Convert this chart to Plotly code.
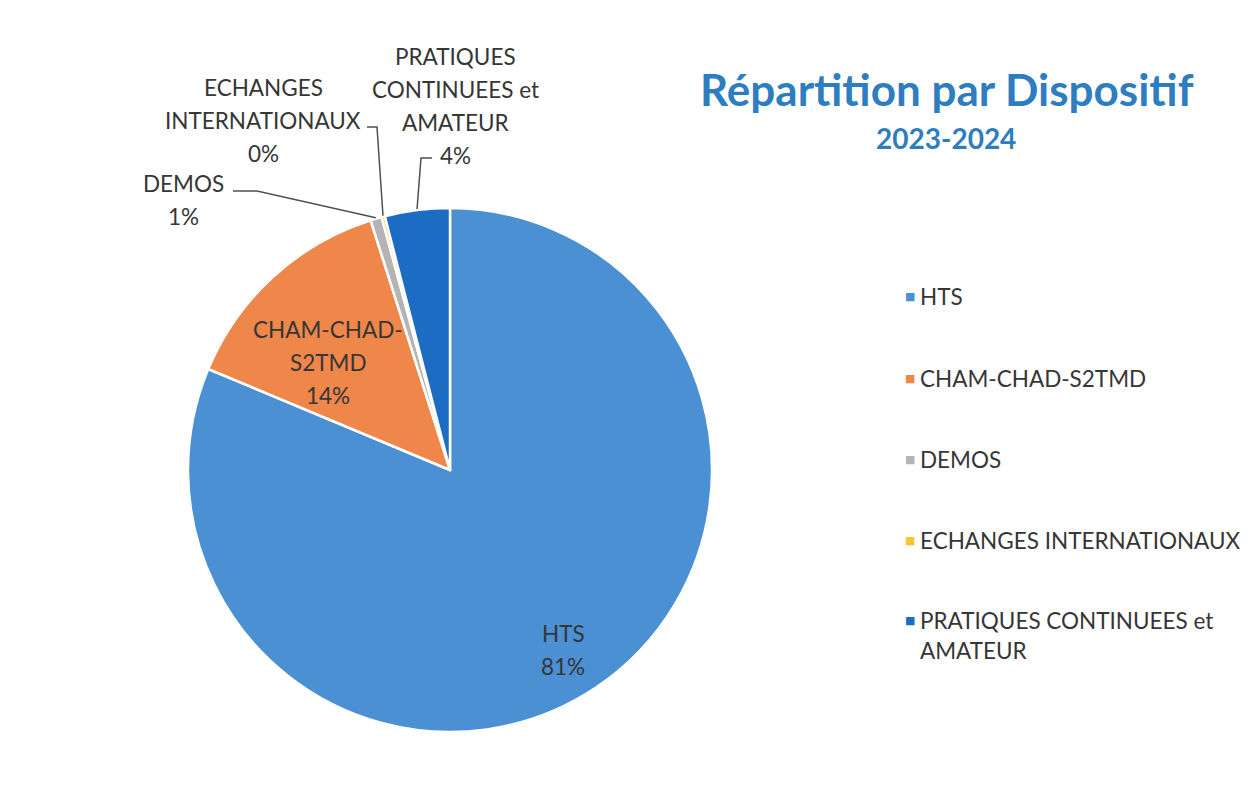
import math
import plotly.graph_objects as go

labels = ["HTS", "CHAM-CHAD-S2TMD", "DEMOS", "ECHANGES INTERNATIONAUX",
          "PRATIQUES CONTINUEES et AMATEUR"]
values = [81.3, 13.8, 0.7, 0.2, 4.0]
colors = ["#4a90d2", "#f0874a", "#b4b4b4", "#fbc531", "#1c6cc4"]

# text lines as written on the chart
slice_lines = [["HTS"], ["CHAM-CHAD-", "S2TMD"], ["DEMOS"],
               ["ECHANGES", "INTERNATIONAUX"],
               ["PRATIQUES", "CONTINUEES et", "AMATEUR"]]
legend_lines = [["HTS"], ["CHAM-CHAD-S2TMD"], ["DEMOS"], ["ECHANGES INTERNATIONAUX"],
                ["PRATIQUES CONTINUEES et", "AMATEUR"]]

# page body has an 8px margin, so the figure sits at (8, 8) in the window
OFF = 8
W, H = 1256 - OFF, 793 - OFF
CX, CY, R = 450, 470, 262
FONT = "Lato"
TXT = "#363636"
FS = 22.5


def px(x):
    return (x - OFF) / W


def py(y):
    return 1 - (y - OFF) / H


fig = go.Figure(go.Pie(
    labels=labels, values=values, sort=False, direction="clockwise", rotation=0,
    marker=dict(colors=colors, line=dict(color="white", width=2.5)),
    textinfo="none", showlegend=False, hoverinfo="label+percent",
    domain=dict(x=[px(CX - R), px(CX + R)], y=[py(CY + R), py(CY - R)]),
))

total = sum(values)
pcts = [f"{round(v / total * 100)}%" for v in values]

# label blocks: first line centre, line step
label_pos = [(563, 633), (328, 329), (183, 184), (263, 88), (455, 57)]
STEP = 33
annotations = []
for lines, pct, (x, y) in zip(slice_lines, pcts, label_pos):
    for k, t in enumerate(lines + [pct]):
        annotations.append(dict(x=px(x), y=py(y + k * STEP), xref="paper", yref="paper",
                                text=t, showarrow=False, xanchor="center", yanchor="middle",
                                font=dict(family=FONT, size=FS, color=TXT)))

# leader lines to small slices, end point from slice mid angle
cum = 0
mids = []
for v in values:
    mids.append((cum + v / 2) / total * 2 * math.pi)
    cum += v
leader_start = {2: [(233, 191), (257, 191)], 3: [(367, 127), (377, 127)],
                4: [(432, 158), (421, 158)]}
shapes = []
for i, pts in leader_start.items():
    ex = CX + (R + 1) * math.sin(mids[i])
    ey = CY - (R + 1) * math.cos(mids[i])
    allp = pts + [(ex, ey)]
    path = "M " + " L ".join(f"{px(a)},{py(b)}" for a, b in allp)
    shapes.append(dict(type="path", path=path, xref="paper", yref="paper",
                       line=dict(color="#505050", width=1.5)))

# legend
leg_y = [297, 378, 459, 540, 620]
for lines, c, y in zip(legend_lines, colors, leg_y):
    annotations.append(dict(x=px(903), y=py(y), xref="paper", yref="paper", text="■",
                            showarrow=False, xanchor="left", yanchor="middle",
                            font=dict(family="DejaVu Sans", size=11, color=c)))
    for k, t in enumerate(lines):
        annotations.append(dict(x=px(918), y=py(y + k * 30), xref="paper", yref="paper",
                                text=t, showarrow=False, xanchor="left", yanchor="middle",
                                font=dict(family=FONT, size=FS, color=TXT)))

# title
annotations.append(dict(x=px(947), y=py(89), xref="paper", yref="paper",
                        text="<b>Répartition par Dispositif</b>", showarrow=False,
                        xanchor="center", yanchor="middle",
                        font=dict(family=FONT, size=44, color="#2e7dc0")))
annotations.append(dict(x=px(946), y=py(138), xref="paper", yref="paper",
                        text="<b>2023-2024</b>", showarrow=False,
                        xanchor="center", yanchor="middle",
                        font=dict(family=FONT, size=28, color="#2e7dc0")))

fig.update_layout(width=W, height=H, margin=dict(l=0, r=0, t=0, b=0),
                  paper_bgcolor="white", plot_bgcolor="white",
                  annotations=annotations, shapes=shapes)
fig.write_html("out.html")
